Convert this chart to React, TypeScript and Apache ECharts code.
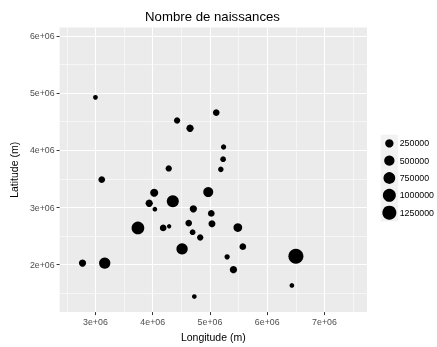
import { useEffect, useRef } from "react";
import * as echarts from "echarts";

// Data (longitude, latitude in metres; births)
const lon = [3000000, 4426000, 4652000, 5110000, 5238000, 5230000, 4280000, 5190000, 3110000, 4026000, 4970000, 3939000, 4351000, 4038000, 4710000, 5023000, 3742000, 4183000, 4287000, 4629000, 5035000, 4697000, 4830000, 4513000, 2774000, 3162000, 4727000, 5487000, 5574000, 5300000, 5410000, 6501000, 6431000];
const lat = [4926000, 4522000, 4385000, 4660000, 4057000, 3845000, 3684000, 3667000, 3488000, 3259000, 3270000, 3074000, 3109000, 2971000, 2977000, 2897000, 2643000, 2643000, 2672000, 2729000, 2718000, 2569000, 2477000, 2276000, 2029000, 2029000, 1443000, 2650000, 2316000, 2138000, 1914000, 2150000, 1638000];
const births = [52000, 97000, 158000, 118000, 61000, 72000, 97000, 66000, 118000, 218000, 455000, 158000, 795000, 51000, 158000, 118000, 940000, 118000, 50000, 118000, 137000, 72000, 97000, 665000, 158000, 665000, 51000, 289000, 118000, 61000, 158000, 1500000, 51000];

const xMajor = [3000000, 4000000, 5000000, 6000000, 7000000];
const xMinor = [2500000, 3500000, 4500000, 5500000, 6500000, 7500000];
const yMajor = [2000000, 3000000, 4000000, 5000000, 6000000];
const yMinor = [1500000, 2500000, 3500000, 4500000, 5500000];
const legendBreaks = [250000, 500000, 750000, 1000000, 1250000];

const TITLE = "Nombre de naissances";
const X_NAME = "Longitude (m)";
const Y_NAME = "Latitude (m)";

const FONT = "'Liberation Sans', Arial, Helvetica, sans-serif";

const sizeFn = (v: number) => 4.4 + 10.6 * Math.sqrt(Math.max(0, v - 50000) / 1450000);
const fmt = (v: number) => `${Math.round(v / 1e6)}e+06`;

export default function App() {
  const ref = useRef<HTMLDivElement>(null);
  useEffect(() => {
    if (!ref.current) return;
    const chart = echarts.init(ref.current, null, { renderer: "svg" });
    const gridL = 58, gridT = 27.5, gridW = 309, gridH = 288.5;
    const legX = 380.7, legY0 = 143.3, legStep = 17.35;
    const legendEls: any[] = [];
    legendBreaks.forEach((b, i) => {
      const cy = legY0 + i * legStep;
      legendEls.push({ type: "rect", shape: { x: legX, y: cy - 8.65, width: 17.3, height: 17.3 }, style: { fill: "#F2F2F2" }, silent: true });
      legendEls.push({ type: "circle", shape: { cx: legX + 8.65, cy, r: sizeFn(b) / 2 }, style: { fill: "#000" }, silent: true });
      legendEls.push({ type: "text", x: legX + 19, y: cy, style: { text: String(b), fill: "#000", font: `8.8px ${FONT}`, align: "left", verticalAlign: "middle" }, silent: true });
    });
    const baseX = {
      type: "value" as const,
      min: 2374000,
      max: 7743000,
      axisLine: { show: false },
    };
    const baseY = {
      type: "value" as const,
      min: 1172000,
      max: 6147000,
      axisLine: { show: false },
    };
    chart.setOption({
      animation: false,
      textStyle: { fontFamily: FONT },
      grid: { left: gridL, top: gridT, width: gridW, height: gridH, show: true, backgroundColor: "#EBEBEB", borderWidth: 0 },
      xAxis: [
        {
          ...baseX,
          position: "bottom",
          axisTick: { show: true, length: 3, lineStyle: { color: "#333333", width: 1 }, customValues: xMajor },
          axisLabel: { show: true, customValues: xMajor, formatter: fmt, color: "#4D4D4D", fontSize: 8.8, margin: 5, fontFamily: FONT },
          splitLine: { show: true, lineStyle: { color: "#FFFFFF", width: 1.1 } },
          name: X_NAME,
          nameLocation: "middle",
          nameGap: 15,
          nameTextStyle: { color: "#000", fontSize: 10.5, fontFamily: FONT },
        },
        {
          ...baseX,
          position: "bottom",
          axisTick: { show: false, customValues: xMinor },
          axisLabel: { show: false, customValues: xMinor },
          splitLine: { show: true, lineStyle: { color: "#FFFFFF", width: 0.55 } },
        },
      ],
      yAxis: [
        {
          ...baseY,
          position: "left",
          axisTick: { show: true, length: 3, lineStyle: { color: "#333333", width: 1 }, customValues: yMajor },
          axisLabel: { show: true, customValues: yMajor, formatter: fmt, color: "#4D4D4D", fontSize: 8.8, margin: 5, fontFamily: FONT },
          splitLine: { show: true, lineStyle: { color: "#FFFFFF", width: 1.1 } },
          name: Y_NAME,
          nameLocation: "middle",
          nameGap: 36,
          nameTextStyle: { color: "#000", fontSize: 10.5, fontFamily: FONT },
        },
        {
          ...baseY,
          position: "left",
          axisTick: { show: false, customValues: yMinor },
          axisLabel: { show: false, customValues: yMinor },
          splitLine: { show: true, lineStyle: { color: "#FFFFFF", width: 0.55 } },
        },
      ],
      series: [
        {
          type: "scatter",
          xAxisIndex: 0,
          yAxisIndex: 0,
          data: lon.map((x, i) => [x, lat[i], births[i]]),
          symbol: "circle",
          symbolSize: (val: number[]) => sizeFn(val[2]),
          itemStyle: { color: "#000000", opacity: 1 },
          emphasis: { disabled: true },
          clip: false,
        },
      ],
      graphic: [
        { type: "text", x: gridL + gridW / 2, y: 16.5, style: { text: TITLE, fill: "#000", font: `13.2px ${FONT}`, align: "center", verticalAlign: "middle" }, silent: true },
        ...legendEls,
      ],
    });
    return () => chart.dispose();
  }, []);
  return <div ref={ref} style={{ position: "fixed", left: 0, top: 0, width: 437, height: 347 }} />;
}
